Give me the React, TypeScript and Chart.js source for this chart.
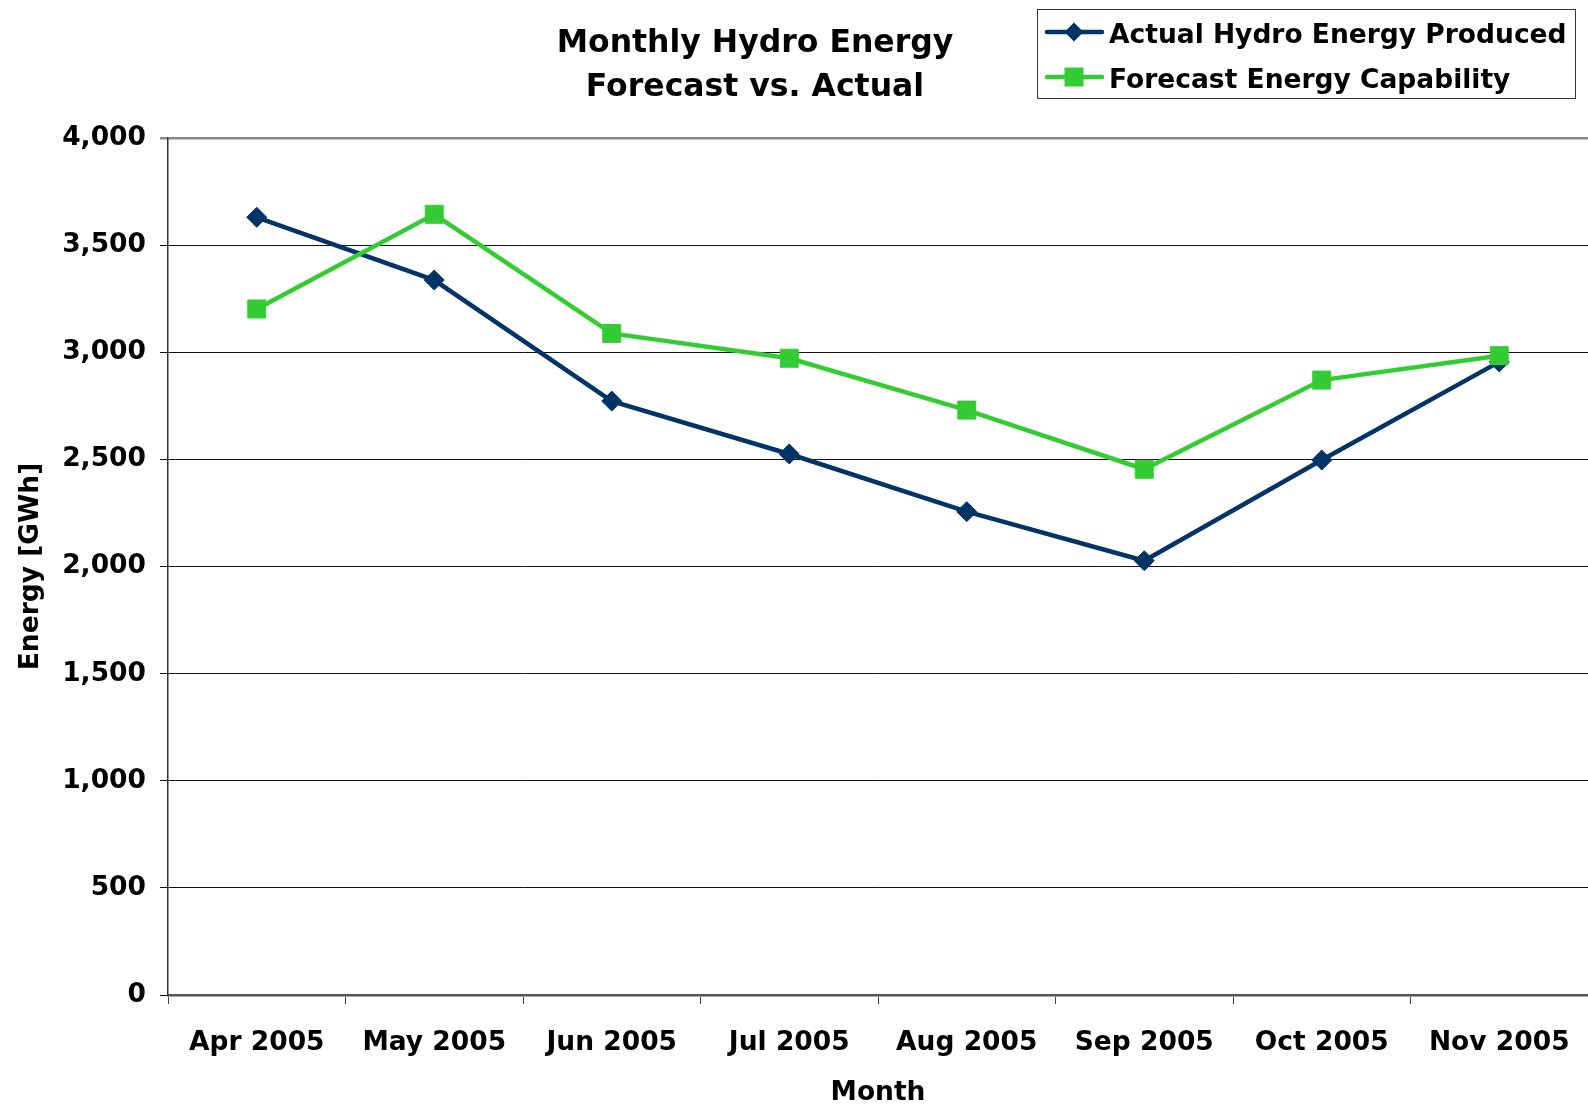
import React, { useEffect, useRef } from 'react';
import { Chart, registerables } from 'chart.js';

Chart.register(...registerables);

const months = ['Apr 2005', 'May 2005', 'Jun 2005', 'Jul 2005', 'Aug 2005', 'Sep 2005', 'Oct 2005', 'Nov 2005'];
const actualHydro = [3630, 3337, 2772, 2525, 2256, 2027, 2497, 2955];
const forecastCapability = [3202, 3644, 3088, 2972, 2730, 2454, 2870, 2984];
const seriesLabels = ['Actual Hydro Energy Produced', 'Forecast Energy Capability'];
const titleLines = ['Monthly Hydro Energy', 'Forecast vs. Actual'];
const yMin = 0;
const yMax = 4000;
const yStep = 500;

const FONT = '"DejaVu Sans", Verdana, sans-serif';
const NAVY = '#003366';
const GREEN = '#33cc33';

function drawMarker(ctx: CanvasRenderingContext2D, style: string, x: number, y: number, half: number, color: string) {
  ctx.save();
  ctx.fillStyle = color;
  ctx.beginPath();
  if (style === 'rectRot') {
    ctx.moveTo(x, y - half);
    ctx.lineTo(x + half, y);
    ctx.lineTo(x, y + half);
    ctx.lineTo(x - half, y);
    ctx.closePath();
  } else {
    ctx.rect(x - half, y - half, half * 2, half * 2);
  }
  ctx.fill();
  ctx.restore();
}

const titlePlugin = {
  id: 'customTitle',
  afterDraw(chart: any) {
    const ctx = chart.ctx as CanvasRenderingContext2D;
    ctx.save();
    ctx.font = `bold 31.5px ${FONT}`;
    ctx.fillStyle = '#000';
    ctx.textAlign = 'center';
    ctx.textBaseline = 'alphabetic';
    const baselines = [52, 96];
    titleLines.forEach((t, i) => ctx.fillText(t, 755, baselines[i]));
    ctx.restore();
  },
};

const legendPlugin = {
  id: 'customLegend',
  afterDraw(chart: any) {
    const ctx = chart.ctx as CanvasRenderingContext2D;
    const left = 1037, top = 9, right = 1575, bottom = 98;
    ctx.save();
    ctx.fillStyle = '#fff';
    ctx.fillRect(left, top, right - left, bottom - top);
    ctx.strokeStyle = '#333';
    ctx.lineWidth = 1;
    ctx.strokeRect(left + 0.5, top + 0.5, right - left, bottom - top);
    const rowBase = [43, 88];
    chart.data.datasets.forEach((ds: any, i: number) => {
      const ly = rowBase[i] - 11;
      ctx.strokeStyle = ds.borderColor;
      ctx.lineWidth = 4.5;
      ctx.lineCap = 'round';
      ctx.beginPath();
      ctx.moveTo(1047, ly);
      ctx.lineTo(1102, ly);
      ctx.stroke();
      drawMarker(ctx, ds.pointStyle, 1074, ly, 9.5, ds.borderColor);
      ctx.font = `bold 26.5px ${FONT}`;
      ctx.fillStyle = '#000';
      ctx.textAlign = 'left';
      ctx.textBaseline = 'alphabetic';
      ctx.fillText(ds.label, 1109, rowBase[i]);
    });
    ctx.restore();
  },
};

export default function App() {
  const ref = useRef<HTMLCanvasElement | null>(null);

  useEffect(() => {
    document.body.style.margin = '0';
    if (!ref.current) return;
    const tickFont = { family: FONT, size: 26.5, weight: 'bold' as const };
    const chart = new Chart(ref.current, {
      type: 'line',
      data: {
        labels: months,
        datasets: [
          {
            label: seriesLabels[0],
            data: actualHydro,
            borderColor: NAVY,
            backgroundColor: NAVY,
            borderWidth: 4.5,
            pointStyle: 'rectRot',
            pointRadius: 10,
            pointBorderWidth: 1,
            pointBackgroundColor: NAVY,
            pointBorderColor: NAVY,
            tension: 0,
            fill: false,
            order: 1,
          },
          {
            label: seriesLabels[1],
            data: forecastCapability,
            borderColor: GREEN,
            backgroundColor: GREEN,
            borderWidth: 4.5,
            pointStyle: 'rect',
            pointRadius: 12.7,
            pointBorderWidth: 1,
            pointBackgroundColor: GREEN,
            pointBorderColor: GREEN,
            tension: 0,
            fill: false,
            order: 0,
          },
        ],
      },
      options: {
        responsive: false,
        animation: false,
        layout: { autoPadding: false, padding: { top: 138, right: 0, bottom: 0, left: 0 } },
        plugins: {
          legend: { display: false },
          title: { display: false },
          tooltip: { enabled: false },
        },
        scales: {
          x: {
            type: 'category',
            offset: true,
            grid: {
              offset: true,
              drawOnChartArea: false,
              drawTicks: true,
              tickLength: 9,
              color: '#444',
              lineWidth: 1,
            },
            border: { display: true, color: '#555', width: 2.5 },
            ticks: { padding: 23, font: tickFont, color: '#000', maxRotation: 0, autoSkip: false },
            title: {
              display: true,
              text: 'Month',
              font: { ...tickFont, lineHeight: 0.9 },
              color: '#000',
              padding: { top: 0, bottom: 0 },
            },
            afterFit: (s: any) => {
              s.height = 110;
              s.paddingLeft = 0;
              s.paddingRight = 0;
            },
          },
          y: {
            min: yMin,
            max: yMax,
            ticks: { stepSize: yStep, padding: 14, font: tickFont, color: '#000' },
            grid: {
              color: (c: any) => (c.tick && c.tick.value === yMax ? '#888' : '#111'),
              lineWidth: (c: any) => (c.tick && c.tick.value === yMax ? 2.5 : 1),
              drawTicks: true,
              tickLength: 8,
            },
            border: { display: true, color: '#333', width: 1.5 },
            title: {
              display: true,
              text: 'Energy [GWh]',
              font: tickFont,
              color: '#000',
              padding: { top: 15, bottom: 0 },
            },
            afterFit: (s: any) => { s.width = 168; },
          },
        },
      },
      plugins: [titlePlugin, legendPlugin],
    });
    return () => chart.destroy();
  }, []);

  return (
    <div style={{ width: 1588, height: 1105, background: '#fff' }}>
      <canvas ref={ref} width={1588} height={1105} style={{ display: 'block' }} />
    </div>
  );
}
